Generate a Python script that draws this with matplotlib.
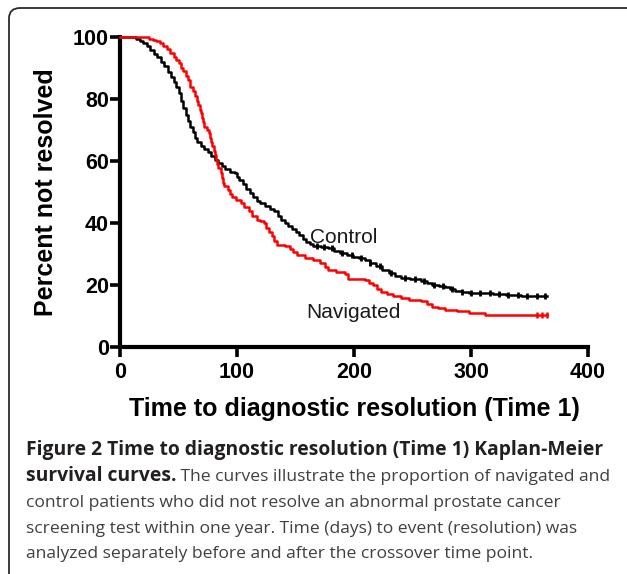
import matplotlib
matplotlib.use("Agg")
import matplotlib.pyplot as plt
import numpy as np
from matplotlib.patches import FancyBboxPatch
from matplotlib import font_manager

# ---------------- data ----------------
control_days = [0, 10, 14, 17, 20, 23, 26, 29, 32, 35, 38, 41, 44, 46, 48, 50, 52, 54,
                56, 58, 60, 62, 64, 66, 69, 72, 75, 78, 81, 84, 87, 90, 94, 98, 100, 102,
                105, 108, 111, 114, 117, 120, 124, 128, 132, 135, 138, 141, 144, 147, 150,
                153, 156, 159, 162, 165, 172, 178, 183, 188, 194, 199, 204, 209, 214, 219,
                224, 230, 235, 240, 248, 257, 262, 267, 273, 278, 282, 286, 292, 298, 319,
                330, 343, 365]
control_pct = [100, 100, 99.4, 98.8, 98, 97, 95.8, 94.6, 93.5, 92, 90.5, 88.8, 87, 85.5,
               84, 82, 79.5, 77, 75, 73, 71, 69.5, 67.5, 66, 65, 64, 62.8, 61.6, 60.4,
               59.4, 58.3, 57.3, 56.6, 56, 55, 53.8, 52.5, 51, 49.6, 48.3, 47.2, 46.3,
               45.5, 44.6, 43.8, 42.3, 41, 40, 39, 38, 37, 36, 35, 34, 33.2, 32.5, 32.2,
               31.8, 31, 30.3, 29.6, 29, 28.6, 28, 27, 26, 25, 24, 23, 22.3, 21.8, 21.2,
               20.6, 20, 19.7, 19.5, 18.8, 18, 17.6, 17.4, 17.2, 16.9, 16.6, 16.5]
control_censor = [168, 174, 181, 190, 198, 206, 214, 222, 232, 244, 252, 260, 268, 276,
                  284, 292, 300, 308, 316, 324, 332, 340, 348, 356, 363]

nav_days = [0, 22, 25, 28, 31, 34, 37, 40, 43, 46, 48, 50, 52, 54, 56, 58, 60, 62, 64,
            66, 67, 68, 69, 70, 71, 72, 74, 76, 77, 78, 79, 80, 81, 82, 83, 84, 86, 87,
            88, 89, 92, 94, 96, 99, 103, 106, 110, 113, 117, 120, 123, 125, 127, 130,
            132, 134, 141, 145, 148, 151, 158, 165, 171, 175, 178, 185, 192, 195, 202,
            209, 213, 216, 220, 223, 228, 233, 240, 247, 257, 262, 267, 272, 278, 288,
            298, 312, 365]
nav_pct = [100, 100, 99.5, 99, 98.6, 98, 97, 96.2, 95, 93.7, 92.7, 91.5, 90, 89, 87.5,
           86, 84, 82.5, 81, 79.5, 78, 76.5, 75.5, 74, 72.5, 71, 70, 69, 67.5, 66, 64.7,
           63.2, 61.8, 60.4, 59, 57.6, 56, 54.5, 53, 51.8, 50.5, 49.4, 48.4, 47.4, 46.3,
           45.2, 43.8, 42.4, 41, 40.5, 40, 38.5, 37, 35.7, 34.3, 33, 32.5, 31.5, 30.5,
           29.7, 28.8, 28, 27, 25.8, 24.7, 24.2, 23.7, 22, 21.8, 21.5, 20.7, 20, 18.8,
           17.8, 17, 16.3, 15.8, 15.3, 14.7, 13.8, 13, 12.5, 12, 11.5, 10.9, 10.4, 10.4]
nav_censor = [356, 361, 365]

x_ticks = [0, 100, 200, 300, 400]
y_ticks = [0, 20, 40, 60, 80, 100]

x_label = "Time to diagnostic resolution (Time 1)"
y_label = "Percent not resolved"
caption_bold_1 = "Figure 2 Time to diagnostic resolution (Time 1) Kaplan-Meier"
caption_bold_2 = "survival curves."
caption_rest_2 = " The curves illustrate the proportion of navigated and"
caption_lines = ["control patients who did not resolve an abnormal prostate cancer",
                 "screening test within one year. Time (days) to event (resolution) was",
                 "analyzed separately before and after the crossover time point."]

# ---------------- fonts ----------------
names = {f.name for f in font_manager.fontManager.ttflist}
chart_font = "Liberation Sans" if "Liberation Sans" in names else "DejaVu Sans"
cap_font = "Open Sans" if "Open Sans" in names else "DejaVu Sans"

W, H = 627, 574
fig = plt.figure(figsize=(W / 100, H / 100), dpi=100)
fig.patch.set_facecolor("white")

# outer rounded frame (runs off the right and bottom edges)
frame = FancyBboxPatch((9 / W, 1 - 590 / H), (660 - 9) / W, (590 - 8) / H,
                       boxstyle="round,pad=0,rounding_size=0.018",
                       transform=fig.transFigure, facecolor="none",
                       edgecolor="#2a2a2a", linewidth=1.3, clip_on=False)
fig.add_artist(frame)

ax = fig.add_axes([120 / W, 1 - 347 / H, (588 - 120) / W, (347 - 37) / H])
ax.set_xlim(0, 400)
ax.set_ylim(0, 100)

ax.step(control_days, control_pct, where="post", color="black", lw=1.8,
        clip_on=False, zorder=3)
ax.step(nav_days, nav_pct, where="post", color="#ff0000", lw=1.8,
        clip_on=False, zorder=4)

def km_at(days, pct, t):
    i = np.searchsorted(days, t, side="right") - 1
    return np.asarray(pct)[i]

ax.plot(control_censor, [km_at(control_days, control_pct, t) for t in control_censor],
        ls="none", marker="|", ms=4.5, mew=2.0, color="black", clip_on=False, zorder=3)
ax.plot(nav_censor, [km_at(nav_days, nav_pct, t) for t in nav_censor],
        ls="none", marker="|", ms=4.5, mew=1.8, color="#ff0000", clip_on=False, zorder=4)

for s in ["top", "right"]:
    ax.spines[s].set_visible(False)
for s in ["left", "bottom"]:
    ax.spines[s].set_linewidth(3)
    ax.spines[s].set_capstyle("projecting")

ax.set_xticks(x_ticks)
ax.set_yticks(y_ticks)
ax.tick_params(axis="both", direction="out", length=7, width=2.6, color="black")
ax.tick_params(axis="y", pad=1)
ax.tick_params(axis="x", pad=4)
for lab in ax.get_xticklabels() + ax.get_yticklabels():
    lab.set_fontfamily(chart_font)
    lab.set_fontsize(15.5)
    lab.set_fontweight("bold")

ax.set_xlabel(x_label, fontfamily=chart_font, fontsize=18, fontweight="bold", labelpad=10)
ax.set_ylabel(y_label, fontfamily=chart_font, fontsize=18, fontweight="bold", labelpad=11)

ax.text(162, 33.5, "Control", fontfamily=chart_font, fontsize=15, color="#1a1a1a",
        ha="left", va="baseline")
ax.text(159, 9.4, "Navigated", fontfamily=chart_font, fontsize=15, color="#1a1a1a",
        ha="left", va="baseline")

# ---------------- caption ----------------
bold_size = 13.9
reg_size = 12.6
bold_col = "#231f20"
reg_col = "#404040"
x0 = 26 / W
baselines = [455, 481, 507, 533, 558]

fig.text(x0, 1 - baselines[0] / H, caption_bold_1, fontfamily=cap_font,
         fontsize=bold_size, fontweight="bold", color=bold_col, va="baseline")
tb = fig.text(x0, 1 - baselines[1] / H, caption_bold_2, fontfamily=cap_font,
              fontsize=bold_size, fontweight="bold", color=bold_col, va="baseline")
renderer = fig.canvas.get_renderer()
bb = tb.get_window_extent(renderer=renderer)
fig.text(bb.x1 / W, 1 - baselines[1] / H, caption_rest_2, fontfamily=cap_font,
         fontsize=reg_size, color=reg_col, va="baseline")
for line, b in zip(caption_lines, baselines[2:]):
    fig.text(x0, 1 - b / H, line, fontfamily=cap_font, fontsize=reg_size,
             color=reg_col, va="baseline")

fig.savefig("out.png", dpi=100)
